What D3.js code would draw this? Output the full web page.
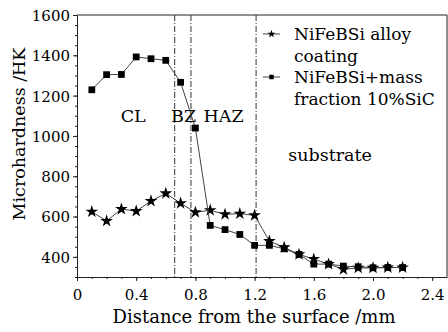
<!DOCTYPE html>
<html>
<head>
<meta charset="utf-8">
<script src="https://cdn.jsdelivr.net/npm/d3@7"></script>
<style>
  body { margin: 0; background: #fff; }
  svg { display: block; font-family: "DejaVu Serif", serif; }
  .axis text { font-family: "DejaVu Serif", serif; font-size: 15px; fill: #000; }
  .axis path, .axis line { stroke: #222; }
</style>
</head>
<body>
<svg width="448" height="332"></svg>
<script>
// data
const distance = [0.1, 0.2, 0.3, 0.4, 0.5, 0.6, 0.7, 0.8, 0.9, 1.0, 1.1,
                  1.2, 1.3, 1.4, 1.5, 1.6, 1.7, 1.8, 1.9, 2.0, 2.1, 2.2];
const alloyCoating = [624, 578, 637, 627, 677, 715, 666, 621, 631, 611, 614,
                      606, 478, 447, 412, 389, 364, 338, 345, 345, 347, 347];
const sicCoating = [1229, 1304, 1305, 1392, 1383, 1375, 1266, 1039, 556, 535, 511,
                    457, 457, 440, 412, 364, 364, 354, 351, 346, 347, 347];
const seriesNames = ['NiFeBSi alloy coating', 'NiFeBSi+mass fraction 10%SiC'];
const boundaries = [0.66, 0.77, 1.21];
const zoneLabels = [
  {text: 'CL', x: 0.38, y: 1070},
  {text: 'BZ', x: 0.72, y: 1070},
  {text: 'HAZ', x: 0.99, y: 1070},
  {text: 'substrate', x: 1.71, y: 875}
];
const xTicks = [0, 0.4, 0.8, 1.2, 1.6, 2.0, 2.4];
const yTicks = [400, 600, 800, 1000, 1200, 1400, 1600];

const svg = d3.select('svg');
const margin = {top: 15, right: 1, bottom: 55, left: 77};
const width = 448 - margin.left - margin.right;
const height = 332 - margin.top - margin.bottom;

const chart = svg.append('g')
    .attr('transform', 'translate(' + margin.left + ',' + margin.top + ')');

const xScale = d3.scaleLinear().domain([0, 2.5]).range([0, width]);
const yScale = d3.scaleLinear().domain([300, 1600]).range([height, 0]);

// minor ticks
chart.append('g')
    .attr('class', 'axis')
    .attr('transform', 'translate(0,' + height + ')')
    .call(d3.axisBottom(xScale).tickValues(d3.range(0, 2.5, 0.1)).tickSize(2).tickFormat(''))
    .call(g => g.select('.domain').remove());
chart.append('g')
    .attr('class', 'axis')
    .call(d3.axisLeft(yScale).tickValues(d3.range(300, 1601, 50)).tickSize(2).tickFormat(''))
    .call(g => g.select('.domain').remove());

// major axes
chart.append('g')
    .attr('class', 'axis')
    .attr('transform', 'translate(0,' + height + ')')
    .call(d3.axisBottom(xScale).tickValues(xTicks).tickSize(4).tickSizeOuter(0)
        .tickFormat(d => d === 0 ? '0' : d.toFixed(1)))
    .call(g => g.selectAll('text').attr('dy', '1.05em'));
chart.append('g')
    .attr('class', 'axis')
    .call(d3.axisLeft(yScale).tickValues(yTicks).tickSize(4).tickSizeOuter(0)
        .tickFormat(d3.format('d')))
    .call(g => g.selectAll('text').attr('dy', '0.36em'));

// frame top and right
chart.append('line').attr('x1', 0).attr('x2', width).attr('y1', 0).attr('y2', 0)
    .attr('stroke', '#222');
chart.append('line').attr('x1', width).attr('x2', width).attr('y1', 0).attr('y2', height)
    .attr('stroke', '#222');

// zone boundaries
chart.selectAll('.boundary')
    .data(boundaries)
    .join('line')
    .attr('class', 'boundary')
    .attr('x1', d => xScale(d)).attr('x2', d => xScale(d))
    .attr('y1', 0).attr('y2', height)
    .attr('stroke', '#333')
    .attr('stroke-width', 1)
    .attr('stroke-dasharray', '6,2,1,2');

// zone labels
chart.selectAll('.zone')
    .data(zoneLabels)
    .join('text')
    .attr('class', 'zone')
    .attr('x', d => xScale(d.x))
    .attr('y', d => yScale(d.y))
    .attr('text-anchor', 'middle')
    .attr('font-size', 17.5)
    .attr('fill', '#000')
    .text(d => d.text);

const line = d3.line()
    .x((d, i) => xScale(distance[i]))
    .y(d => yScale(d));

const star = d3.symbol().type(d3.symbolStar).size(50);
const square = d3.symbol().type(d3.symbolSquare).size(46);

// alloy coating
chart.append('path')
    .attr('d', line(alloyCoating))
    .attr('fill', 'none').attr('stroke', '#444').attr('stroke-width', 1);
chart.selectAll('.star')
    .data(alloyCoating)
    .join('path')
    .attr('class', 'star')
    .attr('d', star)
    .attr('transform', (d, i) => 'translate(' + xScale(distance[i]) + ',' + yScale(d) + ')')
    .attr('fill', '#000');

// SiC coating
chart.append('path')
    .attr('d', line(sicCoating))
    .attr('fill', 'none').attr('stroke', '#444').attr('stroke-width', 1);
chart.selectAll('.square')
    .data(sicCoating)
    .join('path')
    .attr('class', 'square')
    .attr('d', square)
    .attr('transform', (d, i) => 'translate(' + xScale(distance[i]) + ',' + yScale(d) + ')')
    .attr('fill', '#000');

// legend
const legend = svg.append('g').attr('font-size', 17).attr('fill', '#000');
const legendRows = [
  {sym: d3.symbolStar, lines: ['NiFeBSi alloy', 'coating'], y: 34},
  {sym: d3.symbolSquare, lines: ['NiFeBSi+mass', 'fraction 10%SiC'], y: 77}
];
legendRows.forEach((r, k) => {
  legend.append('line').attr('x1', 263).attr('x2', 280).attr('y1', r.y).attr('y2', r.y)
      .attr('stroke', '#444');
  legend.append('path').attr('d', d3.symbol().type(r.sym).size(20)())
      .attr('transform', 'translate(271.5,' + r.y + ')').attr('fill', '#000');
  r.lines.forEach((t, j) => {
    legend.append('text').attr('x', 294).attr('y', r.y + j * 21.5).attr('dy', '0.36em').text(t);
  });
});
legend.selectAll('text').datum((d, i) => seriesNames[Math.floor(i / 2)]);

// axis titles
svg.append('text')
    .attr('x', 254)
    .attr('y', 323)
    .attr('text-anchor', 'middle')
    .attr('font-size', 18)
    .attr('fill', '#000')
    .text('Distance from the surface /mm');
svg.append('text')
    .attr('transform', 'translate(25,' + 134 + ') rotate(-90)')
    .attr('text-anchor', 'middle')
    .attr('font-size', 17.5)
    .attr('fill', '#000')
    .text('Microhardness /HK');
</script>
</body>
</html>
